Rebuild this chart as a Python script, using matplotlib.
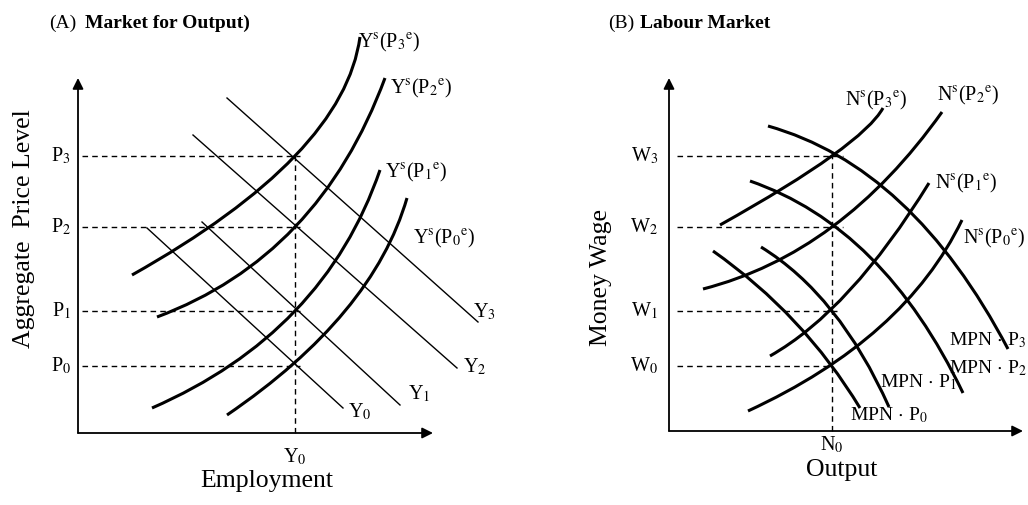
import matplotlib.pyplot as plt
from matplotlib.path import Path
from matplotlib.patches import PathPatch
import numpy as np

plt.rcParams['font.family'] = ['Liberation Serif', 'DejaVu Serif']
plt.rcParams['mathtext.fontset'] = 'stix'

# ---------------- (A) Market for Output ----------------
a_origin = (78, 433)
a_x_tip = 433
a_y_tip = 78
a_y0 = 295
p_levels = [366, 311, 227, 156]
p_names = [r'P$_0$', r'P$_1$', r'P$_2$', r'P$_3$']

# supply curves: start, point on curve, end
ys_curves = [
    [(227, 415), (345, 311), (407, 198)],
    [(152, 408), (295, 311), (380, 170)],
    [(157, 317), (295, 227), (385, 78)],
    [(132, 275), (295, 156), (360, 37)],
]
ys_names = [r'Y$^{\rm s}$(P$_0{}^{\rm e}$)', r'Y$^{\rm s}$(P$_1{}^{\rm e}$)',
            r'Y$^{\rm s}$(P$_2{}^{\rm e}$)', r'Y$^{\rm s}$(P$_3{}^{\rm e}$)']
ys_label_pos = [(413, 238), (385, 172), (390, 88), (358, 42)]

ad_lines = [
    [(147, 228), (343, 408)],
    [(202, 222), (400, 405)],
    [(193, 135), (457, 368)],
    [(227, 98), (478, 322)],
]
ad_names = [r'Y$_0$', r'Y$_1$', r'Y$_2$', r'Y$_3$']
ad_label_pos = [(348, 412), (408, 394), (463, 367), (473, 312)]

# ---------------- (B) Labour Market ----------------
b_origin = (669, 431)
b_x_tip = 1023
b_y_tip = 78
b_n0 = 832
w_levels = [366, 311, 227, 156]
w_names = [r'W$_0$', r'W$_1$', r'W$_2$', r'W$_3$']
w_dash_end = [828, 837, 843, 843]

ns_curves = [
    [(748, 411), (880, 327), (962, 220)],
    [(770, 356), (850, 290), (929, 183)],
    [(703, 289), (832, 227), (942, 112)],
    [(720, 225), (832, 156), (883, 108)],
]
ns_names = [r'N$^{\rm s}$(P$_0{}^{\rm e}$)', r'N$^{\rm s}$(P$_1{}^{\rm e}$)',
            r'N$^{\rm s}$(P$_2{}^{\rm e}$)', r'N$^{\rm s}$(P$_3{}^{\rm e}$)']
ns_label_pos = [(963, 238), (935, 183), (937, 95), (845, 100)]

mpn_curves = [
    [(713, 251), (795, 322), (860, 408)],
    [(761, 247), (832, 311), (889, 407)],
    [(750, 181), (870, 257), (963, 393)],
    [(768, 126), (900, 202), (1008, 349)],
]
mpn_names = [r'MPN$\,\cdot\,$P$_0$', r'MPN$\,\cdot\,$P$_1$',
             r'MPN$\,\cdot\,$P$_2$', r'MPN$\,\cdot\,$P$_3$']
mpn_label_pos = [(850, 415), (880, 382), (949, 368), (949, 340)]


def curve(ax, pts, lw=2.2):
    p0, m, p1 = (np.array(p, float) for p in pts)
    c = 2 * m - (p0 + p1) / 2
    path = Path([p0, c, p1], [Path.MOVETO, Path.CURVE3, Path.CURVE3])
    ax.add_patch(PathPatch(path, fill=False, lw=lw, color='black', capstyle='butt'))


def axes_arrows(ax, origin, x_tip, y_tip):
    arr = dict(arrowstyle='-|>', lw=1.3, color='black', mutation_scale=16, shrinkA=0, shrinkB=0)
    ax.annotate('', xy=(x_tip, origin[1]), xytext=origin, arrowprops=arr)
    ax.annotate('', xy=(origin[0], y_tip), xytext=origin, arrowprops=arr)


fig = plt.figure(figsize=(10.28, 5.05), dpi=100)
ax = fig.add_axes([0, 0, 1, 1])
ax.set_xlim(0, 1028)
ax.set_ylim(505, 0)
ax.axis('off')

dash = dict(color='black', lw=1.0, ls=(0, (4, 3)))
lab = 14.5

# ----- panel A -----
axes_arrows(ax, a_origin, a_x_tip, a_y_tip)
for y, name in zip(p_levels, p_names):
    ax.plot([82, 300], [y, y], **dash)
    ax.text(71, y, name, ha='right', va='center', fontsize=lab)
ax.plot([a_y0, a_y0], [a_origin[1], p_levels[-1]], **dash)
for pts in ys_curves:
    curve(ax, pts)
for pts, name, pos in zip(ad_lines, ad_names, ad_label_pos):
    xs, ys = zip(*pts)
    ax.plot(xs, ys, color='black', lw=1.0)
    ax.text(pos[0], pos[1], name, ha='left', va='center', fontsize=lab)
for name, pos in zip(ys_names, ys_label_pos):
    ax.text(pos[0], pos[1], name, ha='left', va='center', fontsize=lab)
ax.text(a_y0, 457, r'Y$_0$', ha='center', va='center', fontsize=lab)
ax.text(267, 481, 'Employment', ha='center', va='center', fontsize=18.5)
ax.text(24, 229, 'Aggregate  Price Level', ha='center', va='center', rotation=90, fontsize=18.5)
ax.text(49, 23, '(A)', ha='left', va='center', fontsize=14)
ax.text(85, 23, 'Market for Output)', ha='left', va='center', fontsize=14, fontweight='bold')

# ----- panel B -----
axes_arrows(ax, b_origin, b_x_tip, b_y_tip)
for y, name, xe in zip(w_levels, w_names, w_dash_end):
    ax.plot([677, xe], [y, y], **dash)
    ax.text(658, y, name, ha='right', va='center', fontsize=lab)
ax.plot([b_n0, b_n0], [b_origin[1], w_levels[-1]], **dash)
for pts in ns_curves + mpn_curves:
    curve(ax, pts)
for name, pos in zip(ns_names, ns_label_pos):
    ax.text(pos[0], pos[1], name, ha='left', va='center', fontsize=lab)
for name, pos in zip(mpn_names, mpn_label_pos):
    ax.text(pos[0], pos[1], name, ha='left', va='center', fontsize=14)
ax.text(b_n0, 445, r'N$_0$', ha='center', va='center', fontsize=lab)
ax.text(842, 470, 'Output', ha='center', va='center', fontsize=18.5)
ax.text(601, 277, 'Money Wage', ha='center', va='center', rotation=90, fontsize=18.5)
ax.text(608, 23, '(B)', ha='left', va='center', fontsize=14)
ax.text(640, 23, 'Labour Market', ha='left', va='center', fontsize=14, fontweight='bold')

fig.savefig('out.png', dpi=100)
